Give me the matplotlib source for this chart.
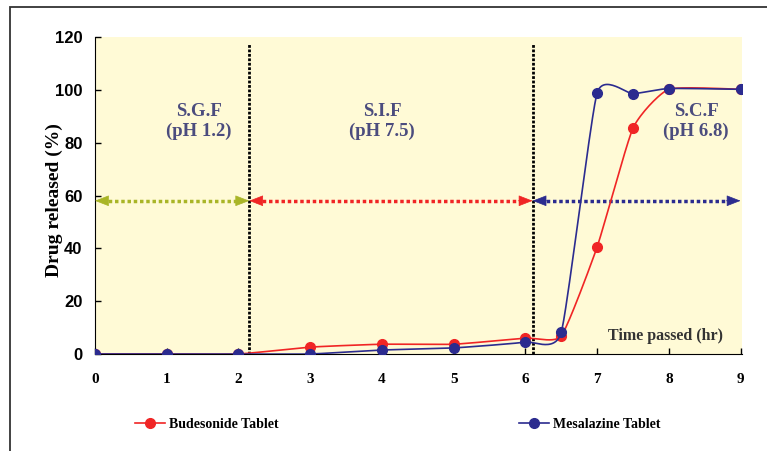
import numpy as np
import matplotlib.pyplot as plt
from matplotlib.patches import Rectangle
from matplotlib.lines import Line2D

# data
time_hr = [0, 1, 2, 3, 4, 5, 6, 6.5, 7, 7.5, 8, 9]
budesonide = [0, 0, 0, 2.6, 3.7, 3.7, 6.0, 6.8, 40.5, 85.5, 100.2, 100.2]
mesalazine = [0, 0, 0, 0, 1.5, 2.3, 4.5, 8.2, 98.8, 98.5, 100.5, 100.2]

phase_bounds = [0, 2.15, 6.1, 9]
phase_names = ['S.G.F\n(pH 1.2)', 'S.I.F\n(pH 7.5)', 'S.C.F\n(pH 6.8)']
phase_label_x = [1.45, 4.0, 8.38]
phase_colors = ['#a9b527', '#f02525', '#2b2b8f']
arrow_y = 58

red = '#f02525'
blue = '#2b2b8f'
txt_col = '#4b4c7e'


def smooth(x, y, n=30, k=12.0):
    # excel-like smoothed line (bezier through the points)
    p = np.column_stack([x, y]).astype(float)
    p = np.vstack([p[0], p, p[-1]])
    segs = []
    t = np.linspace(0, 1, n)[:, None]
    for i in range(1, len(p) - 2):
        p0, p1, p2, p3 = p[i - 1], p[i], p[i + 1], p[i + 2]
        c1 = p1 + (p2 - p0) / k
        c2 = p2 - (p3 - p1) / k
        segs.append((1 - t) ** 3 * p1 + 3 * (1 - t) ** 2 * t * c1
                    + 3 * (1 - t) * t ** 2 * c2 + t ** 3 * p2)
    s = np.vstack(segs)
    return s[:, 0], s[:, 1]


fig = plt.figure(figsize=(7.67, 4.51), dpi=100)
ax = fig.add_axes([95 / 767, 1 - 354 / 451, 647 / 767, 317 / 451])
ax.set_facecolor('#fffad6')

# outer frame
fig.patches.append(Rectangle((10 / 767, -0.1), 1.2, 1 - 7 / 451 + 0.1,
                             transform=fig.transFigure, fill=False,
                             edgecolor='#333333', lw=1.3))

serif = 'Liberation Serif'

for b in phase_bounds[1:3]:
    ax.plot([b, b], [0, 117.5], color='black', lw=2, ls=(0, (1, 0.6)), zorder=2)

for i in range(3):
    x0, x1 = phase_bounds[i], phase_bounds[i + 1]
    c = phase_colors[i]
    ax.plot([x0 + 0.1, x1 - 0.1], [arrow_y, arrow_y], color=c, lw=2.5,
            ls=(0, (1, 0.8)), zorder=3)
    for xa, xb in [(x0 + 0.2, x0), (x1 - 0.2, x1)]:
        ax.annotate('', xy=(xb, arrow_y), xytext=(xa, arrow_y),
                    arrowprops=dict(arrowstyle='-|>,head_length=0.9,head_width=0.35',
                                    color=c, lw=0.5, shrinkA=0, shrinkB=0), zorder=4)
    ax.text(phase_label_x[i], 88, phase_names[i], ha='center', va='center',
            fontsize=13.5, fontweight='bold', family=serif, color=txt_col,
            linespacing=1.2)

xs, ys = smooth(time_hr, budesonide)
ax.plot(xs, ys, color=red, lw=1.2, zorder=5)
ax.plot(time_hr, budesonide, 'o', color=red, ms=7, zorder=6)
xs, ys = smooth(time_hr, mesalazine)
ax.plot(xs, ys, color=blue, lw=1.2, zorder=7)
ax.plot(time_hr, mesalazine, 'o', color=blue, ms=7, zorder=8)

ax.set_xlim(0, 9.02)
ax.set_ylim(0, 120)
ax.set_xticks(range(10))
ax.set_yticks(range(0, 121, 20))
for s in ['top', 'right']:
    ax.spines[s].set_visible(False)
ax.tick_params(direction='in', length=4, width=1)
ax.tick_params(axis='x', pad=14)
ax.tick_params(axis='y', pad=9)
for lab in ax.get_xticklabels():
    lab.set_family(serif)
    lab.set_fontweight('bold')
    lab.set_fontsize(11)
for lab in ax.get_yticklabels():
    lab.set_family(['Liberation Sans Narrow', 'Liberation Sans'])
    lab.set_fontweight('bold')
    lab.set_fontsize(12)

ax.set_ylabel('Drug released (%)', family=serif, fontweight='bold', fontsize=14)
ax.yaxis.set_label_coords(-0.049, 0.486)
ax.text(8.75, 7, 'Time passed (hr)', ha='right', va='center', family=serif,
        fontweight='bold', fontsize=11.5, color='#333333')

handles = [Line2D([], [], color=red, marker='o', ms=7, lw=1.2),
           Line2D([], [], color=blue, marker='o', ms=7, lw=1.2)]
fig.legend(handles, ['Budesonide Tablet', 'Mesalazine Tablet'], ncol=2,
           loc='center left', bbox_to_anchor=(135 / 767, 1 - 424 / 451),
           frameon=False, handlelength=2.16, handletextpad=0.3,
           columnspacing=17.3, borderpad=0, borderaxespad=0,
           prop=dict(family=serif, weight='bold', size=10))

fig.savefig('out.png', dpi=100)
